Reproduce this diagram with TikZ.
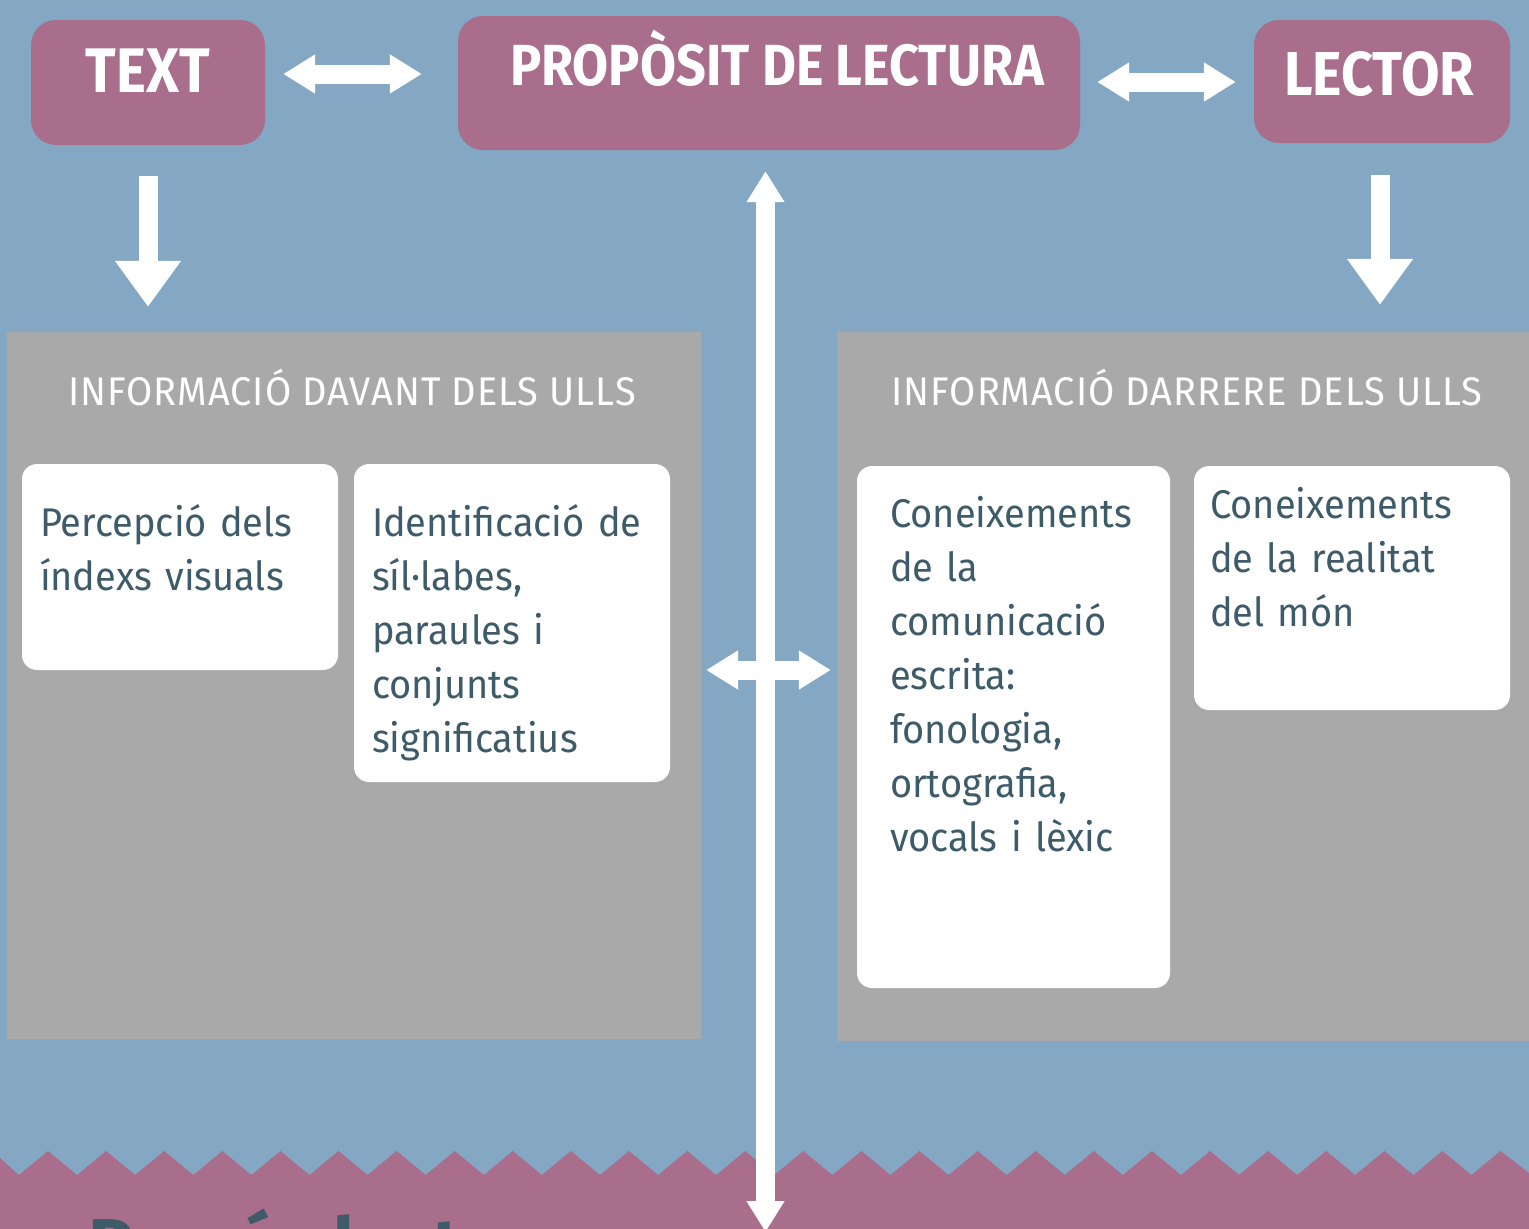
\documentclass[tikz,border=0pt]{standalone}
\usepackage{fontspec}
\setmainfont{Fira Sans}
\newfontfamily\headfont[FakeStretch=0.9]{Fira Sans}
\newfontfamily\bodyfont[FakeStretch=0.95]{Fira Sans}
\newfontfamily\panelfont[FakeStretch=0.95,LetterSpace=2.5]{Fira Sans}
\usetikzlibrary{arrows.meta,positioning,calc}

\definecolor{bgblue}{HTML}{84A7C3}
\definecolor{mauve}{HTML}{A96E8C}
\definecolor{panelgray}{HTML}{A9A9A9}
\definecolor{inkslate}{HTML}{3E5B69}

\tikzset{
  % Blocs del capdamunt
  topbox/.style   = {fill=mauve, rounded corners=25pt, inner sep=0pt},
  toptitle/.style = {text=white, inner sep=0pt, anchor=base},
  % Panells grisos i caixes blanques
  panel/.style      = {fill=panelgray, inner sep=0pt},
  paneltitle/.style = {text=white, inner sep=0pt, anchor=base,
                       font=\panelfont\fontsize{40pt}{40pt}\selectfont},
  card/.style     = {fill=white, rounded corners=15pt, inner sep=0pt,
                     minimum width=316pt},
  cardtext/.style = {text=inkslate, inner sep=0pt, anchor=base west,
                     text width=300pt, align=left,
                     font=\bodyfont\fontsize{40pt}{54pt}\selectfont},
  % Fletxes
  wide arrow/.style = {white, line width=19pt,
            {Triangle[width=37pt,length=32pt]}-{Triangle[width=37pt,length=32pt]}},
  down arrow/.style = {white, line width=19pt, -{Triangle[width=63pt,length=46pt]}},
}

\begin{document}
\begin{tikzpicture}[x=1pt, y=-1pt]

\path[use as bounding box] (0,0) rectangle (1529,1229);
\clip (0,0) rectangle (1529,1229);
\fill[bgblue] (0,0) rectangle (1529,1229);

% franja inferior en serra
\fill[mauve] (0,1158)
  \foreach \k in {0,...,25} { -- (19+58.1*\k,1175) -- (48+58.1*\k,1151) }
  -- (1529,1173) -- (1529,1229) -- (0,1229) -- cycle;
\node[anchor=base west, inner sep=0pt, text=inkslate,
      font=\bfseries\fontsize{75pt}{75pt}\selectfont] (footer) at (88,1271) {Procés lector};

% blocs del capdamunt
\node[topbox, minimum width=234pt, minimum height=125pt] (textbox) at (148,82.5) {};
\node[toptitle, font=\headfont\bfseries\fontsize{63pt}{63pt}\selectfont]
  (texttitle) at (148,92) {TEXT};
\node[topbox, minimum width=622pt, minimum height=134pt] (proposit) at (769,83) {};
\node[toptitle, font=\headfont\bfseries\fontsize{58pt}{58pt}\selectfont]
  (propotitle) at (777,85) {PROPÒSIT DE LECTURA};
\node[topbox, minimum width=256pt, minimum height=123pt] (lector) at (1382,81.5) {};
\node[toptitle, font=\headfont\bfseries\fontsize{62pt}{62pt}\selectfont]
  (lectortitle) at (1379,95) {LECTOR};

% panells
\node[panel, minimum width=694pt, minimum height=707pt] (leftpanel) at (354,685.5) {};
\node[panel, minimum width=692pt, minimum height=709pt] (rightpanel) at (1183,686.5) {};
\node[paneltitle] (lefttitle)  at (352,405)  {INFORMACIÓ DAVANT DELS ULLS};
\node[paneltitle] (righttitle) at (1187,405) {INFORMACIÓ DARRERE DELS ULLS};

\node[card, minimum height=206pt] (percep) at (180,567) {};
\node[card, minimum height=318pt] (identif) at (512,623) {};
\node[card, minimum width=313pt, minimum height=522pt] (comunic) at (1013.5,727) {};
\node[card, minimum height=244pt] (realitat) at (1352,588) {};

\node[cardtext] (percept) at ([shift={(18,73)}]percep.north west)
  {Percepció dels\\índexs visuals};
\node[cardtext] (identift) at ([shift={(18,73)}]identif.north west)
  {Identificació de\\síl·labes,\\paraules i\\conjunts\\significatius};
\node[cardtext] (comunict) at ([shift={(33,62)}]comunic.north west)
  {Coneixements\\de la\\comunicació\\escrita:\\fonologia,\\ortografia,\\vocals i lèxic};
\node[cardtext] (realitatt) at ([shift={(16,53)}]realitat.north west)
  {Coneixements\\de la realitat\\del món};

% fletxes
\coordinate (bottomtip) at (765.5,1232);
\draw[wide arrow, shorten <=18pt, shorten >=36pt]
  ([yshift=8.5pt]textbox.east) -- ([yshift=9pt]proposit.west);
\draw[wide arrow, shorten <=17pt, shorten >=18pt]
  ([yshift=1pt]proposit.east) -- ([yshift=-0.5pt]lector.west);
\draw[down arrow, shorten <=31pt, shorten >=25pt]
  (textbox.south) -- (textbox.south |- leftpanel.north);
\draw[down arrow, shorten <=32pt, shorten >=27pt]
  ([xshift=-2pt]lector.south) -- ([xshift=-2pt]lector.south |- rightpanel.north);
\draw[wide arrow, shorten <=5pt, shorten >=6pt]
  ([yshift=15.5pt]leftpanel.east) -- ([yshift=16.5pt]rightpanel.west);
\draw[white, line width=19pt,
      {Triangle[width=36pt,length=31pt]}-{Triangle[width=36pt,length=31pt]},
      shorten <=21pt]
  ([xshift=-3.5pt]proposit.south) -- (bottomtip);

\end{tikzpicture}
\end{document}
